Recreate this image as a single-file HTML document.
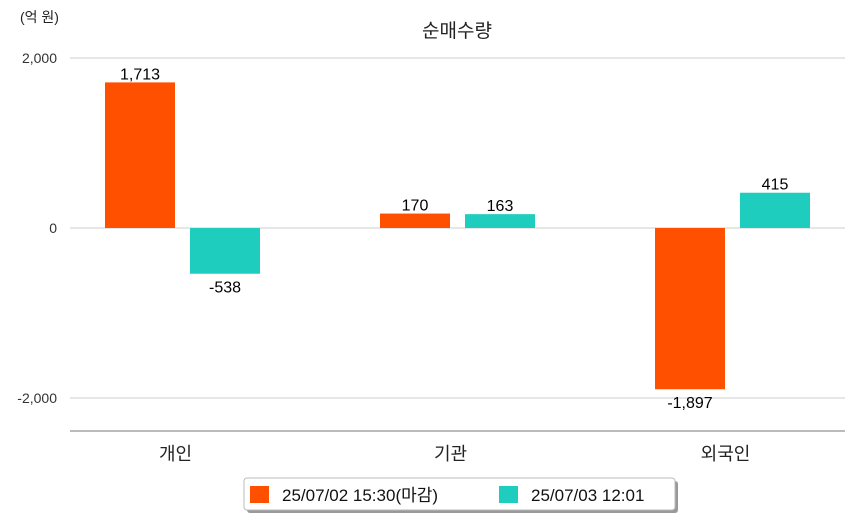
<!DOCTYPE html>
<html><head><meta charset="utf-8"><style>
body{margin:0;background:#fff;font-family:"Liberation Sans","Noto Sans CJK KR",sans-serif;}
svg text{font-family:"Liberation Sans","Noto Sans CJK KR",sans-serif;}
</style></head><body>
<svg id="chart" width="854" height="520" xmlns="http://www.w3.org/2000/svg">
<text x="20" y="22" font-size="14" fill="#222">(억 원)</text>
<text x="457" y="37" font-size="19" fill="#222" text-anchor="middle">순매수량</text>
<g id="grid"></g><g id="bars"></g>
<line x1="70" y1="431" x2="845" y2="431" stroke="#777" stroke-width="1"/>
<g>
<rect x="247" y="481" width="431" height="32" rx="3" fill="#999"/>
<rect x="244" y="478" width="431" height="32" rx="3" fill="#fff" stroke="#bbb"/>
<rect x="250" y="486" width="19" height="17" fill="#ff5000"/>
<text x="282" y="501" font-size="17" fill="#111">25/07/02 15:30(마감)</text>
<rect x="499" y="486" width="19" height="17" fill="#1ecdbd"/>
<text x="531" y="501" font-size="17" fill="#111">25/07/03 12:01</text>
</g>
</svg>
<script>
const categories=["개인","기관","외국인"];
const series1=[1713,170,-1897];
const series2=[-538,163,415];
const ticks=[2000,0,-2000];
const tickLabels=["2,000","0","-2,000"];
const NS="http://www.w3.org/2000/svg";
const y=v=>228-v*0.085;
const bandX=i=>45+275*i;
const grid=document.getElementById('grid'),bars=document.getElementById('bars');
function mk(tag,attrs,parent){const e=document.createElementNS(NS,tag);for(const k in attrs)e.setAttribute(k,attrs[k]);parent.appendChild(e);return e;}
ticks.forEach((t,i)=>{
 const l=mk('line',{x1:70,x2:845,y1:y(t),y2:y(t),stroke:'#ccc'},grid);
 
 
 const tx=mk('text',{x:57,y:y(t)+5,'font-size':14,fill:'#333','text-anchor':'end'},grid);
 tx.textContent=tickLabels[i];
 
 
});
const fmt=v=>v.toLocaleString('en-US');
categories.forEach((c,i)=>{
 const cx=bandX(i)+137.5;
 [[series1,'#ff5000',cx-77.5],[series2,'#1ecdbd',cx+7.5]].forEach(([s,col,x0],k)=>{
  const v=s[i];const top=Math.min(y(v),y(0));const h=Math.abs(y(v)-y(0));
  const r=mk('rect',{x:x0,y:top,width:70,height:h,fill:col},bars);
  
  
  const t=mk('text',{x:x0+35,y:v>=0?y(v)-3:y(v)+19,'font-size':16,fill:'#000','text-anchor':'middle'},bars);
  t.textContent=fmt(v);
  
  
 });
 const ct=mk('text',{x:cx-7,y:460,'font-size':18,fill:'#222','text-anchor':'middle'},bars);
 ct.textContent=c;
 
 
});
</script>
</body></html>
